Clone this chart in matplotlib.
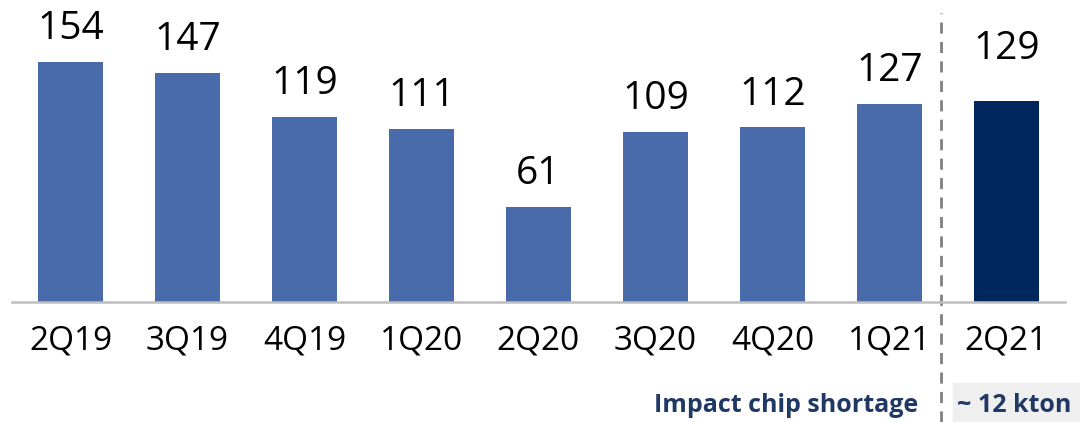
import matplotlib.pyplot as plt
from matplotlib.patches import Rectangle

quarters = ["2Q19", "3Q19", "4Q19", "1Q20", "2Q20", "3Q20", "4Q20", "1Q21", "2Q21"]
volumes = [154, 147, 119, 111, 61, 109, 112, 127, 129]

plt.rcParams['font.family'] = ['Open Sans', 'DejaVu Sans']

fig = plt.figure(figsize=(10.8, 4.22), dpi=100)
ax = fig.add_axes([12 / 1080, 120 / 422, 1053 / 1080, 302 / 422])

colors = ['#4A6BAA'] * (len(volumes) - 1) + ['#00285E']
x = list(range(len(quarters)))
ax.bar(x, volumes, width=0.556, color=colors, zorder=2)

for i, v in enumerate(volumes):
    off = 24 if i == len(volumes) - 1 else 10
    ax.annotate(str(v), (i, v), xytext=(0, off), textcoords='offset points',
                ha='center', va='bottom', fontsize=28, color='black')

ax.set_xlim(-0.5, 8.5)
ax.set_ylim(0, 193.8)
ax.set_xticks(x)
ax.set_xticklabels(quarters, fontsize=24)
ax.tick_params(axis='x', length=0, pad=16)
ax.set_yticks([])
for s in ['top', 'left', 'right']:
    ax.spines[s].set_visible(False)
ax.spines['bottom'].set_color('#BFBFBF')
ax.spines['bottom'].set_linewidth(1.8)

# separator between history and the latest quarter
ax.plot([7.44, 7.44], [-77, 185.5], color='#808080', lw=2,
        linestyle=(0, (4, 3)), clip_on=False, zorder=1)

fig.text(918 / 1080, 1 - 405 / 422, "Impact chip shortage", ha='right', va='center',
         fontsize=18, fontweight='bold', color='#1F3864')
fig.patches.append(Rectangle((953 / 1080, 0), 127 / 1080, 39 / 422,
                             transform=fig.transFigure, color='#EFEFEF', zorder=0))
fig.text(957 / 1080, 1 - 405 / 422, "~ 12 kton", ha='left', va='center',
         fontsize=18, fontweight='bold', color='#1F3864')

fig.savefig('out.png', dpi=100)
